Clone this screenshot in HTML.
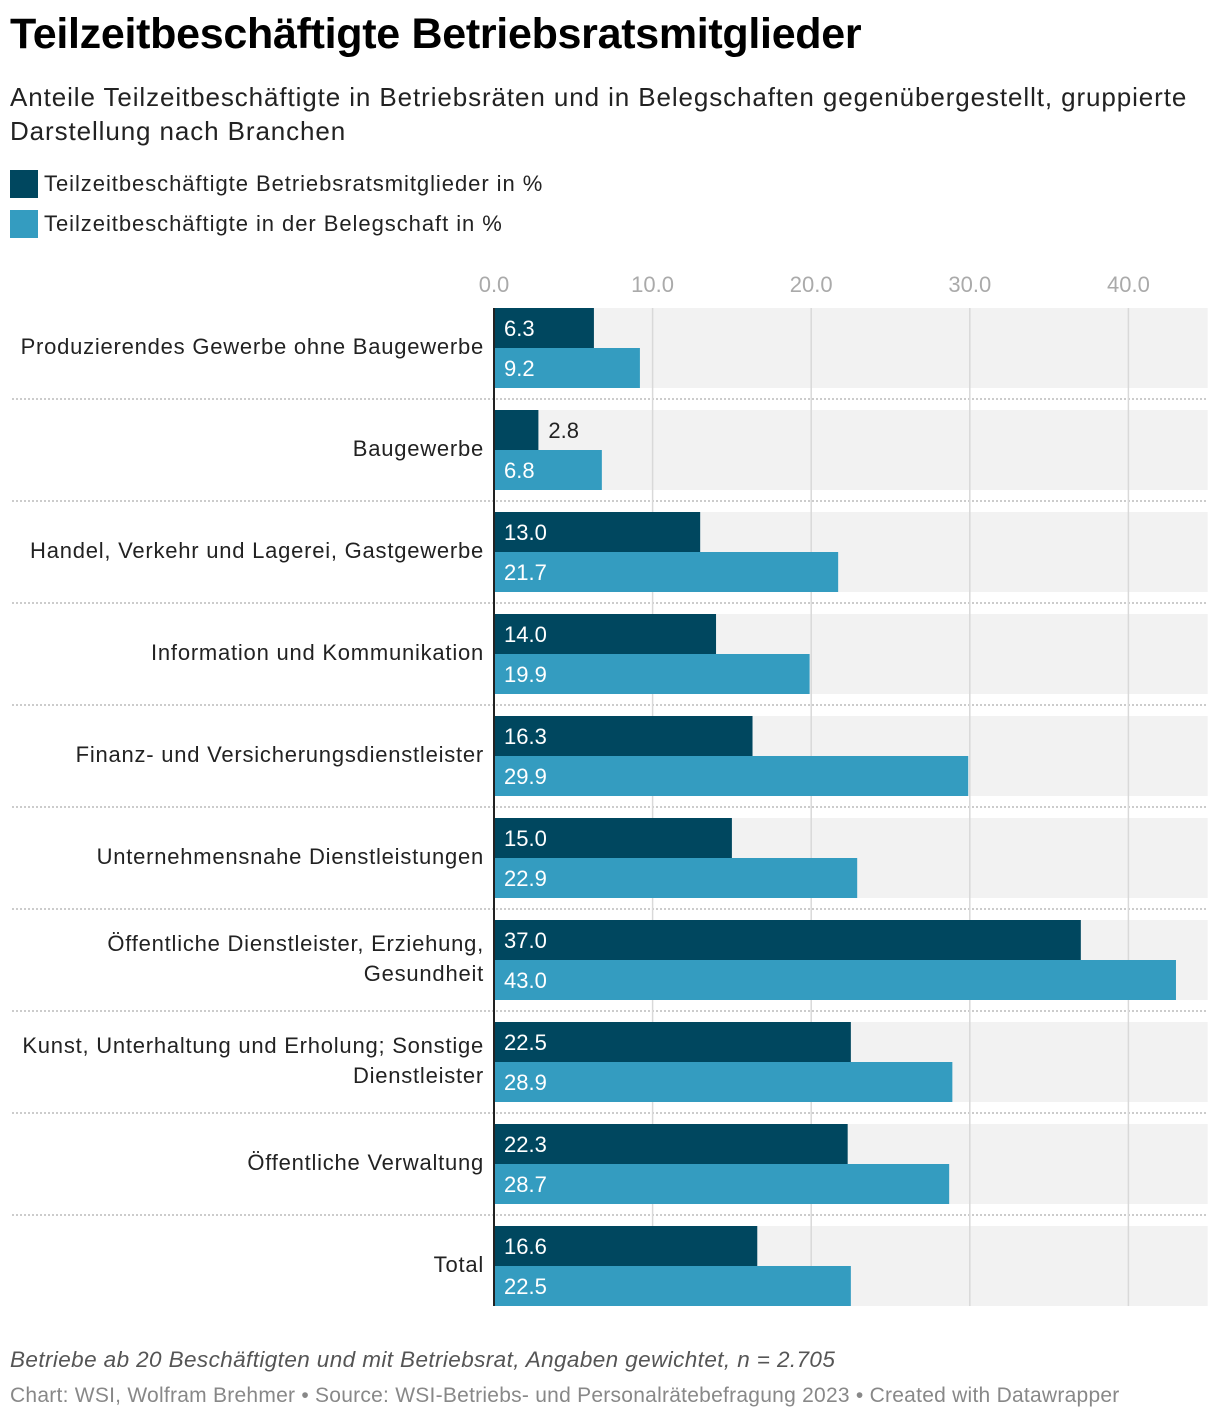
<!DOCTYPE html>
<html><head><meta charset="utf-8">
<style>
body{margin:0;background:#fff;font-family:"Liberation Sans",sans-serif;width:1220px;height:1420px;overflow:hidden;position:relative;color:#222}
.t{position:absolute;left:10px;margin:0;white-space:nowrap}
</style></head><body>
<h1 class="t" style="top:10px;font-size:43px;font-weight:bold;letter-spacing:-0.3px;color:#000">Teilzeitbeschäftigte Betriebsratsmitglieder</h1>
<div class="t" style="top:80px;font-size:26px;line-height:34px;color:#222;letter-spacing:0.9px">Anteile Teilzeitbeschäftigte in Betriebsräten und in Belegschaften gegenübergestellt, gruppierte<br>Darstellung nach Branchen</div>
<div class="t" style="top:170px;font-size:22px;letter-spacing:0.95px">
 <div style="height:28px;line-height:28px;margin-bottom:12px"><span style="display:inline-block;width:28px;height:28px;background:#00475f;vertical-align:top;margin-right:6px"></span>Teilzeitbeschäftigte Betriebsratsmitglieder in %</div>
 <div style="height:28px;line-height:28px"><span style="display:inline-block;width:28px;height:28px;background:#349cc0;vertical-align:top;margin-right:6px"></span>Teilzeitbeschäftigte in der Belegschaft in %</div>
</div>
<svg id="chart" width="1220" height="1420" style="position:absolute;left:0;top:0" font-family="Liberation Sans, sans-serif"></svg>
<div class="t" style="top:1347px;font-size:22.5px;font-style:italic;color:#555;letter-spacing:0.4px">Betriebe ab 20 Beschäftigten und mit Betriebsrat, Angaben gewichtet, n = 2.705</div>
<div class="t" style="top:1384px;font-size:21px;color:#888;letter-spacing:0.25px">Chart: WSI, Wolfram Brehmer • Source: WSI-Betriebs- und Personalrätebefragung 2023 • Created with Datawrapper</div>
<script>
const categories=[["Produzierendes Gewerbe ohne Baugewerbe"],["Baugewerbe"],["Handel, Verkehr und Lagerei, Gastgewerbe"],["Information und Kommunikation"],["Finanz- und Versicherungsdienstleister"],["Unternehmensnahe Dienstleistungen"],["Öffentliche Dienstleister, Erziehung,","Gesundheit"],["Kunst, Unterhaltung und Erholung; Sonstige","Dienstleister"],["Öffentliche Verwaltung"],["Total"]];
const betriebsrat=[6.3,2.8,13.0,14.0,16.3,15.0,37.0,22.5,22.3,16.6];
const belegschaft=[9.2,6.8,21.7,19.9,29.9,22.9,43.0,28.9,28.7,22.5];
const ticks=[0,10,20,30,40];
const ns="http://www.w3.org/2000/svg",svg=document.getElementById("chart");
const x0=494,ppu=15.86,xmax=45,top0=308,step=102,bh=40;
const X=v=>x0+v*ppu;
function el(t,a,p){const e=document.createElementNS(ns,t);for(const k in a)e.setAttribute(k,a[k]);(p||svg).appendChild(e);return e;}
categories.forEach((c,i)=>{const y=top0+i*step;
 const bg=el("rect",{x:x0,y:y,width:X(xmax)-x0,height:2*bh,fill:"#f2f2f2"});
 
 
 if(i>0){const l=el("line",{x1:12,x2:1208,y1:y-11,y2:y-11,stroke:"#bbb","stroke-width":1.5,"stroke-dasharray":"2,2"});
 
 }
});
ticks.forEach(t=>{const l=el("line",{x1:X(t),x2:X(t),y1:top0,y2:top0+9*step+2*bh,stroke:"#d9d9d9","stroke-width":1.5});
 
 
 const tx=el("text",{x:X(t),y:292,"text-anchor":"middle","font-size":22,fill:"#aaa"});tx.textContent=t.toFixed(1);
 
 
});
categories.forEach((c,i)=>{const y=top0+i*step;
 [[betriebsrat[i],"#00475f",y],[belegschaft[i],"#349cc0",y+bh]].forEach(([v,col,yy],j)=>{
  const r=el("rect",{x:x0,y:yy,width:X(v)-x0,height:bh,fill:col});
  
  
  const inside=X(v)-x0>55;
  const t=el("text",{x:inside?x0+10:X(v)+10,y:yy+28,"font-size":22,fill:inside?"#fff":"#222"});t.textContent=v.toFixed(1);
  
  
 });
 const n=c.length,cy=y+bh-(n-1)*15+6;
 c.forEach((s,k)=>{const t=el("text",{x:484,y:cy+k*30,"text-anchor":"end","font-size":22,"letter-spacing":0.77,fill:"#222"});t.textContent=s;
  
  });
});
const ax=el("line",{x1:x0,x2:x0,y1:top0,y2:top0+9*step+2*bh,stroke:"#222","stroke-width":2});


</script>
</body></html>
